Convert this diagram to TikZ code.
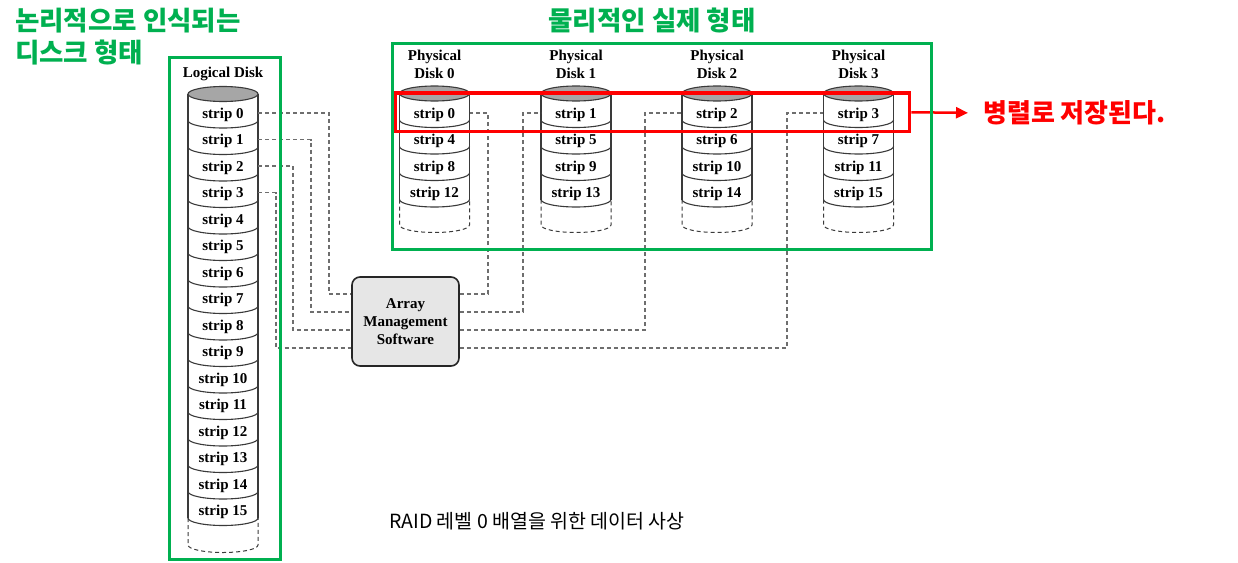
\documentclass[tikz,border=0pt]{standalone}
\usepackage{fontspec}
\setmainfont{Liberation Serif}
\newfontfamily\kofont{Noto Sans CJK KR}
\usetikzlibrary{arrows.meta,positioning,calc}
\definecolor{MarkGreen}{HTML}{00B050}
\definecolor{MarkRed}{HTML}{FF0000}
\definecolor{DiskInk}{HTML}{3A3A3A}
\definecolor{DiskTop}{HTML}{A6A6A6}
\definecolor{LinkGray}{HTML}{6E6E6E}
\definecolor{BoxFill}{HTML}{E6E6E6}

\begin{document}
\begin{tikzpicture}[x=1pt, y=1pt,
  every node/.style={font=\bfseries\fontsize{15}{18}\selectfont},
  strip/.style={minimum width=70pt, minimum height=26pt, inner sep=0pt, text height=10pt, text depth=0pt},
  disk/.style={draw=DiskInk, line width=1.1pt},
  diskend/.style={draw=DiskInk, line width=1pt, dash pattern=on 4pt off 3pt},
  link/.style={draw=LinkGray, line width=1.2pt, dash pattern=on 4pt off 3pt},
  frame/.style={draw=MarkGreen, line width=3pt, inner sep=0pt},
  kotitle/.style={text=MarkGreen, inner sep=0pt, font=\kofont\bfseries\fontsize{26.5}{32}\selectfont}]
\useasboundingbox (0,0) rectangle (1238,-562);
\node[kotitle, anchor=north west, align=left] (ltitle) at (15,-8) {논리적으로 인식되는\\디스크 형태};
\node[kotitle] (ptitle) at (652,-21) {물리적인 실제 형태};
\node (ldl) at (223,-74) {Logical Disk};
\draw[disk] (188,-94) -- (188,-518) (258,-94) -- (258,-518);
\draw[disk, fill=DiskTop] (223,-94) ellipse (35pt and 7.5pt);
\foreach \k in {1,...,16}
  \draw[disk] (188,{-94-26.5*\k}) arc[start angle=180, end angle=360, x radius=35pt, y radius=7.5pt];
\draw[diskend] (188,-518) -- (188,-545) arc[start angle=180, end angle=360, x radius=35pt, y radius=7.5pt] -- (258,-518);
\foreach \k in {0,...,15}
  \node[strip] (l\k) at (223,{-113-26.5*\k}) {strip \k};
\foreach \d/\cx in {0/434.5, 1/576, 2/717, 3/858.5} {
  \node[align=center] (pd\d) at (\cx,-64) {Physical\\Disk \d};
  \draw[disk] ({\cx-35},-93.5) -- ({\cx-35},-199.5) ({\cx+35},-93.5) -- ({\cx+35},-199.5);
  \draw[disk, fill=DiskTop] (\cx,-93.5) ellipse (35pt and 7.5pt);
  \foreach \k in {1,...,4}
    \draw[disk] ({\cx-35},{-93.5-26.5*\k}) arc[start angle=180, end angle=360, x radius=35pt, y radius=7.5pt];
  \draw[diskend] ({\cx-35},-199.5) -- ({\cx-35},-225) arc[start angle=180, end angle=360, x radius=35pt, y radius=7.5pt] -- ({\cx+35},-199.5);
  \foreach \j in {0,...,3} {
    \pgfmathtruncatemacro\n{\d+4*\j}
    \node[strip] (p\d\j) at (\cx,{-113-26.5*\j}) {strip \n};
  }
}
\node[draw=black!85, fill=BoxFill, line width=1.6pt, rounded corners=8pt, minimum width=107pt, minimum height=89pt, align=center] (ams) at (405.5,-321.5) {Array\\Management\\Software};
\foreach \k/\lx/\ly/\rx in {0/329/294/488, 1/311/312/523, 2/293/330/645, 3/276/348/787} {
  \coordinate (in\k) at (\lx,-\ly);
  \coordinate (out\k) at (\rx,-\ly);
  \draw[link] (l\k.east) -| (in\k) -- (in\k -| ams.west);
  \draw[link] (out\k -| ams.east) -- (out\k) -- (out\k |- p\k0) -- (p\k0);
}
\node[draw=MarkRed, line width=3.5pt, minimum width=514pt, minimum height=38.5pt, inner sep=0pt] (row) at (652.5,-112.25) {};
\node[anchor=west, text=MarkRed, inner sep=2pt, font=\kofont\bfseries\fontsize{26}{30}\selectfont] (par) at (981,-113) {병렬로 저장된다.};
\draw[MarkRed, line width=2.5pt, -{Triangle[length=12pt, width=11pt]}, shorten >=13pt] (row.east) -- (par.west);
\node[frame, minimum width=111pt, minimum height=502pt] (lframe) at (224.5,-308) {};
\node[frame, minimum width=539pt, minimum height=206pt] (pframe) at (661.5,-146) {};
\node[font=\kofont\fontsize{19.5}{23}\selectfont] (cap) at (537,-521) {RAID 레벨 0 배열을 위한 데이터 사상};
\end{tikzpicture}
\end{document}
